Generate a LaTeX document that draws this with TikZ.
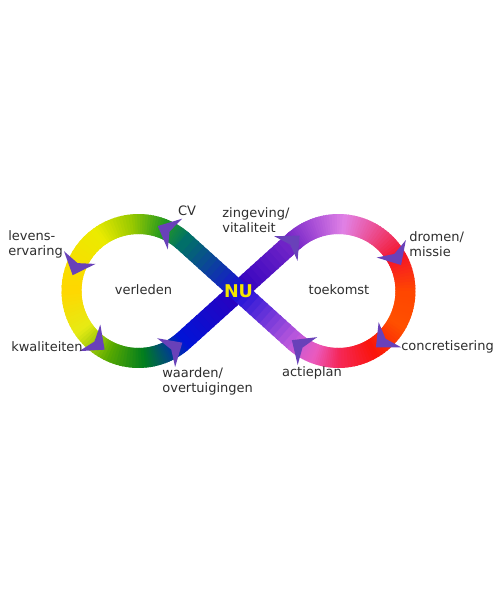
\documentclass[tikz,border=0pt]{standalone}
\usepackage{fontspec}
\setmainfont{DejaVu Sans}
\usetikzlibrary{calc}

\definecolor{cA}{RGB}{0,115,100}
\definecolor{cB}{RGB}{40,155,30}
\definecolor{cC}{RGB}{150,200,0}
\definecolor{cD}{RGB}{235,235,0}
\definecolor{cE}{RGB}{255,215,0}
\definecolor{cF}{RGB}{230,235,20}
\definecolor{cG}{RGB}{90,170,0}
\definecolor{cH}{RGB}{0,125,30}
\definecolor{cI}{RGB}{0,70,130}
\definecolor{cJ}{RGB}{0,20,215}
\definecolor{cK}{RGB}{45,0,190}
\definecolor{cL}{RGB}{120,40,200}
\definecolor{cM}{RGB}{170,80,215}
\definecolor{cN}{RGB}{225,130,230}
\definecolor{cO}{RGB}{235,80,150}
\definecolor{cP}{RGB}{245,20,40}
\definecolor{cQ}{RGB}{255,70,0}
\definecolor{cR}{RGB}{255,80,0}
\definecolor{cS}{RGB}{250,20,10}
\definecolor{cT}{RGB}{245,40,90}
\definecolor{cU}{RGB}{235,90,190}
\definecolor{cV}{RGB}{190,90,220}
\definecolor{cW}{RGB}{25,15,215}
\definecolor{chevpurple}{RGB}{105,65,185}
\definecolor{txtgray}{RGB}{45,45,45}
\definecolor{nuyellow}{RGB}{245,230,0}

\tikzset{
    x=0.02cm, y=0.02cm,
    band/.style = {
        line width=0.4cm,
        line cap=butt
    },
    word/.style = {
        text=txtgray,
        font=\fontsize{7.4}{8.5}\selectfont,
        inner sep=0pt,
        align=left
    },
    chevron/.pic = {
        \fill[chevpurple] (10,0) -- (-9,17) -- (-3,0) -- (-9,-17) -- cycle;
    }
}

\begin{document}
\begin{tikzpicture}
    \useasboundingbox (0,0) rectangle (500,600);

    \coordinate (C) at (238.5,309);
    \coordinate (Lc) at (138.5,309);
    \coordinate (Rc) at (338.5,309);
    \coordinate (TL) at ($(Lc)+(47.93:67)$);
    \coordinate (BL) at ($(Lc)+(-47.93:67)$);
    \coordinate (TR) at ($(Rc)+(132.07:67)$);
    \coordinate (BR) at ($(Rc)+(227.93:67)$);

    % left loop (verleden)
    \foreach \a/\b/\ca/\cb in {47.93/70/cA/cB, 70/95/cB/cC, 95/125/cC/cD,
            125/180/cD/cE, 180/215/cE/cF, 215/245/cF/cG, 245/275/cG/cH,
            275/295/cH/cI, 295/312.07/cI/cJ}{
        \foreach \j in {0,...,11}{
            \pgfmathsetmacro\u{\a+(\b-\a)*\j/12}
            \pgfmathsetmacro\v{\a+(\b-\a)*(\j+1.5)/12}
            \pgfmathtruncatemacro\p{100-(\j+0.5)*100/12}
            \draw[band, draw=\ca!\p!\cb] ($(Lc)+(\u:67)$) arc[start angle=\u, end angle=\v, radius=67];
        }
    }

    % strand under NU
    \foreach \s/\e/\ca/\cb in {BL/C/cJ/cK, C/TR/cK/cL}{
        \foreach \j in {0,...,11}{
            \pgfmathsetmacro\u{\j/12}
            \pgfmathsetmacro\v{(\j+1.4)/12}
            \pgfmathtruncatemacro\p{100-(\j+0.5)*100/12}
            \draw[band, draw=\ca!\p!\cb] ($(\s)!\u!(\e)$) -- ($(\s)!\v!(\e)$);
        }
    }

    % right loop (toekomst)
    \foreach \a/\b/\ca/\cb in {132.07/110/cL/cM, 110/85/cM/cN, 85/60/cN/cO,
            60/30/cO/cP, 30/0/cP/cQ, 0/-30/cQ/cR, -30/-60/cR/cS,
            -60/-90/cS/cT, -90/-110/cT/cU, -110/-132.07/cU/cV}{
        \foreach \j in {0,...,11}{
            \pgfmathsetmacro\u{\a+(\b-\a)*\j/12}
            \pgfmathsetmacro\v{\a+(\b-\a)*(\j+1.5)/12}
            \pgfmathtruncatemacro\p{100-(\j+0.5)*100/12}
            \draw[band, draw=\ca!\p!\cb] ($(Rc)+(\u:67)$) arc[start angle=\u, end angle=\v, radius=67];
        }
    }

    % strand over NU
    \foreach \s/\e/\ca/\cb in {BR/C/cV/cW, C/TL/cW/cA}{
        \foreach \j in {0,...,11}{
            \pgfmathsetmacro\u{\j/12}
            \pgfmathsetmacro\v{(\j+1.4)/12}
            \pgfmathtruncatemacro\p{100-(\j+0.5)*100/12}
            \draw[band, draw=\ca!\p!\cb] ($(\s)!\u!(\e)$) -- ($(\s)!\v!(\e)$);
        }
    }

    % arrowheads along the band
    \foreach \ang in {65,158,231.5,301.8}{
        \pic[rotate=\ang+90] at ($(Lc)+(\ang:67)$) {chevron};
    }
    \foreach \ang in {133.5,31,-48,-125}{
        \pic[rotate=\ang-90] at ($(Rc)+(\ang:67)$) {chevron};
    }

    % labels
    \node[word] (cv) at (187,389) {CV};
    \node[word, anchor=west] (zingeving) at (222,380) {zingeving/\\vitaliteit};
    \node[word, anchor=west] (levens) at (8,356) {levens-\\ervaring};
    \node[word] (verleden) at (143.5,310) {verleden};
    \node[word] (kwaliteiten) at (47,253) {kwaliteiten};
    \node[word, anchor=west] (waarden) at (162,219) {waarden/\\overtuigingen};
    \node[word] (toekomst) at (339,310) {toekomst};
    \node[word, anchor=west] (dromen) at (409,356) {dromen/\\missie};
    \node[word] (concretisering) at (447.5,253) {concretisering};
    \node[word] (actieplan) at (312,227) {actieplan};
    \node[inner sep=0pt, text=nuyellow, font=\bfseries\fontsize{10}{12}\selectfont] (nu) at (C) {NU};
\end{tikzpicture}
\end{document}
